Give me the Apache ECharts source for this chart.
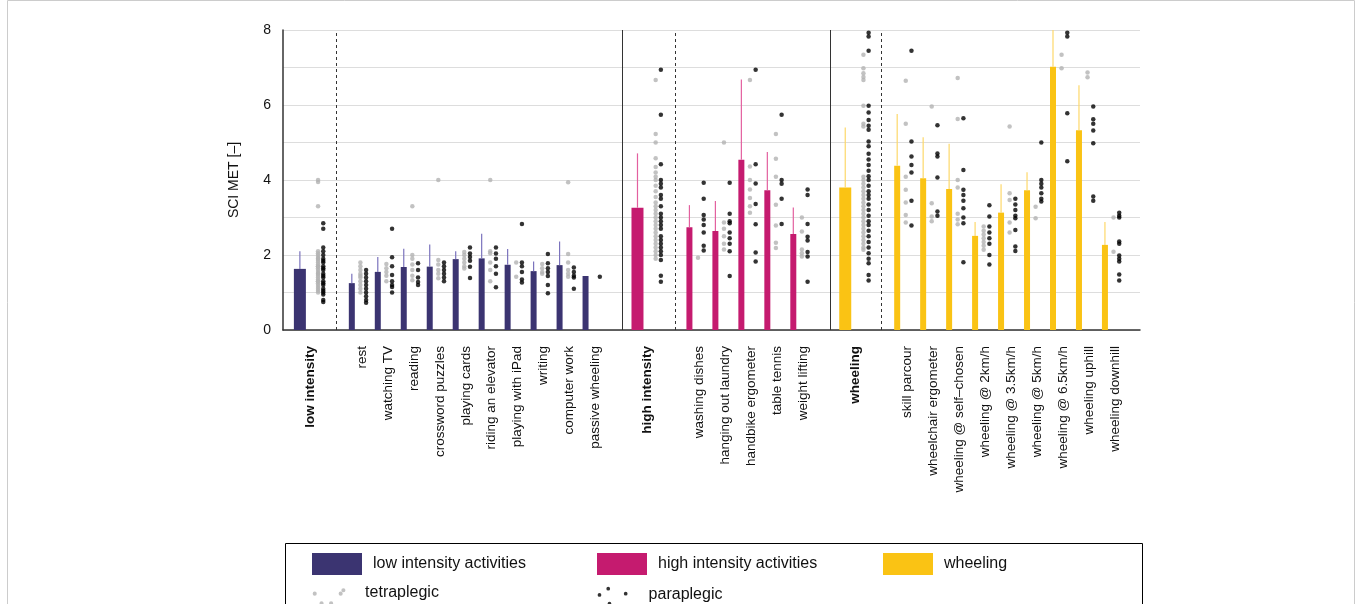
<!DOCTYPE html>
<html style="height: 100%">
<head>
    <meta charset="utf-8">
</head>
<body style="height: 100%; margin: 0; background: #fff">
    <div id="container" style="width: 1357px; height: 604px"></div>
    <script type="text/javascript" src="https://cdn.jsdelivr.net/npm/echarts/dist/echarts.min.js"></script>
    <script type="text/javascript">
        // category slots (blank slots are the gaps around the separators)
        var categories = ['low intensity', '', 'rest', 'watching TV', 'reading', 'crossword puzzles', 'playing cards',
            'riding an elevator', 'playing with iPad', 'writing', 'computer work', 'passive wheeling', '',
            'high intensity', '', 'washing dishes', 'hanging out laundry', 'handbike ergometer', 'table tennis',
            'weight lifting', '', 'wheeling', '', 'skill parcour', 'wheelchair ergometer', 'wheeling @ self\u2013chosen',
            'wheeling @ 2km/h', 'wheeling @ 3.5km/h', 'wheeling @ 5km/h', 'wheeling @ 6.5km/h', 'wheeling uphill',
            'wheeling downhill', ''];
        var groupNames = ['low intensity', 'high intensity', 'wheeling'];

        // slot index of each bar, mean, upper end of whisker, group (0 low,1 high,2 wheeling)
        var barSlot = [0, 2, 3, 4, 5, 6, 7, 8, 9, 10, 11, 13, 15, 16, 17, 18, 19, 21, 23, 24, 25, 26, 27, 28, 29, 30, 31];
        var barMean = [1.63, 1.25, 1.55, 1.68, 1.69, 1.89, 1.91, 1.74, 1.57, 1.73, 1.44, 3.26, 2.74, 2.64, 4.54, 3.73, 2.56,
            3.8, 4.38, 4.05, 3.76, 2.51, 3.13, 3.73, 7.02, 5.33, 2.27];
        var barUpper = [2.1, 1.5, 1.95, 2.17, 2.28, 2.1, 2.57, 2.16, 1.83, 2.36, null, 4.71, 3.33, 3.44, 6.68, 4.75, 3.27,
            5.4, 5.76, 5.14, 4.97, 2.88, 3.89, 4.21, 8.3, 6.53, 2.88];
        var barGroup = [0, 0, 0, 0, 0, 0, 0, 0, 0, 0, 0, 1, 1, 1, 1, 1, 1, 2, 2, 2, 2, 2, 2, 2, 2, 2, 2];

        // individual values per bar (same order as barSlot)
        var tetraValues = [
            [4.0, 3.95, 3.3, 2.1, 2.05, 2.0, 1.95, 1.9, 1.85, 1.8, 1.75, 1.7, 1.65, 1.6, 1.55, 1.5, 1.45, 1.4, 1.35, 1.3, 1.25, 1.2, 1.15, 1.1, 1.05, 1.0, 1.9, 1.7, 1.5, 1.3],
            [1.8, 1.7, 1.6, 1.5, 1.45, 1.4, 1.3, 1.2, 1.1, 1.0],
            [1.76, 1.65, 1.55, 1.45, 1.3],
            [3.3, 2.0, 1.9, 1.75, 1.6, 1.45, 1.33],
            [4.0, 1.87, 1.75, 1.6, 1.5, 1.38],
            [2.08, 2.0, 1.9, 1.8, 1.7, 1.64],
            [4.0, 2.1, 2.05, 1.8, 1.6, 1.3],
            [1.8, 1.42],
            [1.76, 1.65, 1.55, 1.5],
            [3.94, 2.03, 1.8, 1.6, 1.5, 1.42],
            [],
            [6.67, 5.23, 5.0, 4.58, 4.35, 4.2, 4.09, 4.0, 3.85, 3.7, 3.55, 3.4, 3.3, 3.2, 3.1, 3.0, 2.9, 2.8, 2.7, 2.6, 2.5, 2.4, 2.3, 2.2, 2.1, 2.0, 1.9],
            [1.93],
            [5.0, 2.87, 2.7, 2.5, 2.3, 2.15],
            [6.67, 4.36, 4.0, 3.75, 3.52, 3.3, 3.13],
            [5.23, 4.57, 4.09, 3.34, 2.79, 2.33, 2.19],
            [3.0, 2.63, 2.15, 2.05, 1.96],
            [7.34, 6.98, 6.85, 6.75, 6.67, 5.98, 5.5, 5.43, 4.09, 4.0, 3.9, 3.8, 3.7, 3.6, 3.5, 3.4, 3.3, 3.2, 3.1, 3.0, 2.9, 2.8, 2.7, 2.6, 2.5, 2.4, 2.3, 2.2, 2.14],
            [6.65, 5.5, 4.09, 3.74, 3.4, 3.07, 2.87],
            [5.96, 3.38, 3.03, 2.9],
            [6.72, 5.63, 4.0, 3.8, 3.1, 2.95, 2.82],
            [2.76, 2.65, 2.55, 2.45, 2.35, 2.25, 2.14],
            [5.43, 3.65, 3.47, 2.87, 2.6],
            [3.29, 2.98],
            [7.34, 6.98],
            [6.87, 6.74],
            [3.0, 2.09]
        ];
        var paraValues = [
            [2.85, 2.7, 2.2, 2.1, 2.0, 1.9, 1.85, 1.8, 1.7, 1.65, 1.6, 1.5, 1.45, 1.4, 1.3, 1.25, 1.2, 1.1, 1.05, 1.0, 0.95, 0.8, 0.75],
            [1.6, 1.5, 1.4, 1.3, 1.2, 1.1, 1.0, 0.9, 0.8, 0.73],
            [2.7, 1.94, 1.7, 1.47, 1.3, 1.2, 1.15, 1.0],
            [1.78, 1.6, 1.4, 1.28, 1.2],
            [1.8, 1.7, 1.6, 1.5, 1.4, 1.3],
            [2.2, 2.04, 1.95, 1.85, 1.69, 1.39],
            [2.2, 2.04, 1.9, 1.7, 1.5, 1.14],
            [2.83, 1.8, 1.7, 1.55, 1.35, 1.27],
            [2.03, 1.78, 1.65, 1.55, 1.44, 1.2, 0.98],
            [1.67, 1.55, 1.45, 1.4, 1.1],
            [1.42],
            [6.94, 5.74, 4.42, 4.0, 3.9, 3.8, 3.6, 3.5, 3.3, 3.1, 3.0, 2.9, 2.8, 2.7, 2.5, 2.4, 2.3, 2.2, 2.1, 2.0, 1.87, 1.45, 1.29],
            [3.93, 3.5, 3.07, 2.95, 2.8, 2.6, 2.25, 2.12],
            [3.93, 3.1, 2.9, 2.85, 2.6, 2.45, 2.3, 2.1, 1.44],
            [6.94, 4.42, 3.91, 3.36, 2.82, 2.07, 1.83],
            [5.74, 4.0, 3.9, 3.5, 2.83],
            [3.75, 3.6, 2.83, 2.49, 2.39, 2.08, 1.96, 1.29],
            [7.93, 7.83, 7.45, 5.98, 5.8, 5.6, 5.45, 5.34, 5.03, 4.9, 4.7, 4.55, 4.4, 4.25, 4.1, 4.0, 3.85, 3.7, 3.6, 3.5, 3.35, 3.2, 3.05, 2.9, 2.8, 2.65, 2.5, 2.35, 2.2, 2.05, 1.9, 1.78, 1.47, 1.32],
            [7.45, 5.03, 4.63, 4.4, 4.2, 3.45, 2.79],
            [5.46, 4.71, 4.63, 4.07, 3.16, 3.05],
            [5.65, 4.27, 3.74, 3.6, 3.45, 3.25, 3.0, 2.85, 1.81],
            [3.33, 3.03, 2.76, 2.6, 2.45, 2.3, 2.0, 1.75],
            [3.5, 3.35, 3.2, 3.05, 2.98, 2.67, 2.23, 2.11],
            [5.0, 4.0, 3.9, 3.8, 3.65, 3.5, 3.43],
            [7.93, 7.83, 5.78, 4.5],
            [5.96, 5.62, 5.5, 5.32, 4.98, 3.56, 3.45],
            [3.13, 3.05, 3.0, 2.36, 2.3, 1.99, 1.9, 1.83, 1.48, 1.32]
        ];

        var seriesNames = ['low intensity activities', 'high intensity activities', 'wheeling'];
        var barColors = ['#3b3471', '#c51b6f', '#fac314'];
        var errColors = ['#7b73bd', '#e3609f', '#fdd86a'];

        var dom = document.getElementById("container");
        var myChart = echarts.init(dom);

        function barData(g) {
            var out = [];
            for (var i = 0; i < barSlot.length; i++) {
                if (barGroup[i] === g) out.push([barSlot[i], barMean[i], barUpper[i], groupNames.indexOf(categories[barSlot[i]]) >= 0 ? 1 : 0]);
            }
            return out;
        }
        function dotData(values, wideOff, narrowOff) {
            var out = [];
            for (var i = 0; i < barSlot.length; i++) {
                var isGroup = groupNames.indexOf(categories[barSlot[i]]) >= 0;
                values[i].forEach(function (v) {
                    out.push([barSlot[i] + (isGroup ? wideOff : narrowOff), v]);
                });
            }
            return out;
        }

        var series = [];
        [0, 1, 2].forEach(function (g) {
            series.push({
                name: seriesNames[g],
                type: 'custom',
                xAxisIndex: 0, yAxisIndex: 0,
                z: 3,
                clip: true,
                itemStyle: { color: barColors[g] },
                encode: { x: 0, y: 1 },
                renderItem: function (params, api) {
                    var x = api.value(0), m = api.value(1), u = api.value(2), wide = api.value(3);
                    var base = api.coord([x, 0]);
                    var top = api.coord([x, m]);
                    var w = wide ? 12 : 6;
                    var children = [{
                        type: 'rect',
                        shape: { x: base[0] - w / 2, y: top[1], width: w, height: base[1] - top[1] },
                        style: { fill: barColors[g] }
                    }];
                    if (!isNaN(u) && u !== null) {
                        var up = api.coord([x, Math.min(u, 8)]);
                        children.push({
                            type: 'line',
                            shape: { x1: top[0], y1: top[1], x2: top[0], y2: up[1] },
                            style: { stroke: errColors[g], lineWidth: 1.2 }
                        });
                    }
                    return { type: 'group', children: children };
                },
                data: barData(g)
            });
        });
        series.push({
            name: 'tetraplegic',
            type: 'scatter',
            symbolSize: 4.5,
            itemStyle: { color: '#b3b3b3' },
            z: 4,
            data: dotData(tetraValues, 0.7, 0.33)
        });
        series.push({
            name: 'paraplegic',
            type: 'scatter',
            symbolSize: 4.5,
            itemStyle: { color: '#000' },
            z: 5,
            data: dotData(paraValues, 0.9, 0.55),
            markLine: {
                silent: true,
                symbol: 'none',
                label: { show: false },
                data: [
                    { xAxis: 1.39, lineStyle: { type: [3, 3], color: '#333', width: 1 } },
                    { xAxis: 14.44, lineStyle: { type: [3, 3], color: '#333', width: 1 } },
                    { xAxis: 22.37, lineStyle: { type: [3, 3], color: '#333', width: 1 } },
                    { xAxis: 12.4, lineStyle: { type: 'solid', color: '#333', width: 1 } },
                    { xAxis: 20.41, lineStyle: { type: 'solid', color: '#333', width: 1 } }
                ]
            }
        });

        function dot(x, y) { return 'M' + (x - 3) + ',' + y + 'a3,3 0 1,0 6,0a3,3 0 1,0 -6,0Z '; }
        var dotsTetra = 'path://' + dot(4, 20) + dot(14, 34) + dot(28, 34) + dot(42, 20) + dot(46, 15) + 'M0,0h0.1v0.1h-0.1Z M50,38h0.1v0.1h-0.1Z';
        var dotsPara = 'path://' + dot(4, 24) + dot(18, 14) + dot(20, 38) + dot(32, 44) + dot(46, 22) + 'M0,0h0.1v0.1h-0.1Z M50,48h0.1v0.1h-0.1Z';

        function oneLegend(name, left, top, icon, h) {
            return {
                data: [{ name: name, icon: icon }],
                left: left, top: top,
                itemWidth: 50, itemHeight: h, itemGap: 0,
                selectedMode: false,
                textStyle: { fontSize: 16, color: '#111', fontFamily: 'Liberation Sans', padding: [0, 0, 0, 6] }
            };
        }

        var option = {
            animation: false,
            textStyle: { fontFamily: 'Liberation Sans' },
            graphic: [
                { type: 'rect', left: 283, top: 541, shape: { width: 857, height: 70 }, style: { fill: 'none', stroke: '#000', lineWidth: 1 } },
                { type: 'rect', left: 5, top: -2, shape: { width: 1347, height: 610 }, style: { fill: 'none', stroke: '#ccc', lineWidth: 1 } }
            ],
            legend: [
                oneLegend('low intensity activities', 307, 548, 'rect', 22),
                oneLegend('high intensity activities', 592, 548, 'rect', 22),
                oneLegend('wheeling', 878, 548, 'rect', 22),
                oneLegend('tetraplegic', 307, 575, dotsTetra, 26),
                oneLegend('paraplegic', 592, 575, dotsPara, 30)
            ],
            grid: [
                { left: 283, right: 217, top: 30, bottom: 274 },
                { left: 297, right: 203, top: 30, bottom: 274 }
            ],
            xAxis: [{
                type: 'value',
                gridIndex: 0,
                min: -0.65, max: 32.35,
                axisLine: { show: true, onZero: false, lineStyle: { color: '#333', width: 1.5 } },
                axisTick: { show: false },
                axisLabel: { show: false },
                splitLine: { show: false }
            }, {
                type: 'category',
                gridIndex: 1,
                data: categories,
                axisLine: { show: false },
                axisTick: { show: false },
                axisLabel: {
                    interval: 0,
                    rotate: 90,
                    margin: 16,
                    fontSize: 13.5,
                    color: '#111',
                    formatter: function (v) {
                        return groupNames.indexOf(v) >= 0 ? '{b|' + v + '}' : v;
                    },
                    rich: { b: { fontWeight: 'bold', fontSize: 13.5, color: '#111' } }
                }
            }],
            yAxis: [{
                type: 'value',
                gridIndex: 0,
                min: 0, max: 8, interval: 1,
                name: 'SCI MET [\u2013]',
                nameLocation: 'middle',
                nameGap: 42,
                nameTextStyle: { fontSize: 14, color: '#111' },
                axisLine: { show: true, onZero: false, lineStyle: { color: '#333', width: 1.5 } },
                axisTick: { show: false },
                axisLabel: {
                    fontSize: 14, color: '#111', margin: 12,
                    formatter: function (v) { return v % 2 === 0 ? v : ''; }
                },
                splitLine: { lineStyle: { color: '#ddd', width: 1.2 } }
            }, {
                type: 'value',
                gridIndex: 1,
                show: false
            }],
            series: series
        };
        myChart.setOption(option, true);
    </script>
</body>
</html>
